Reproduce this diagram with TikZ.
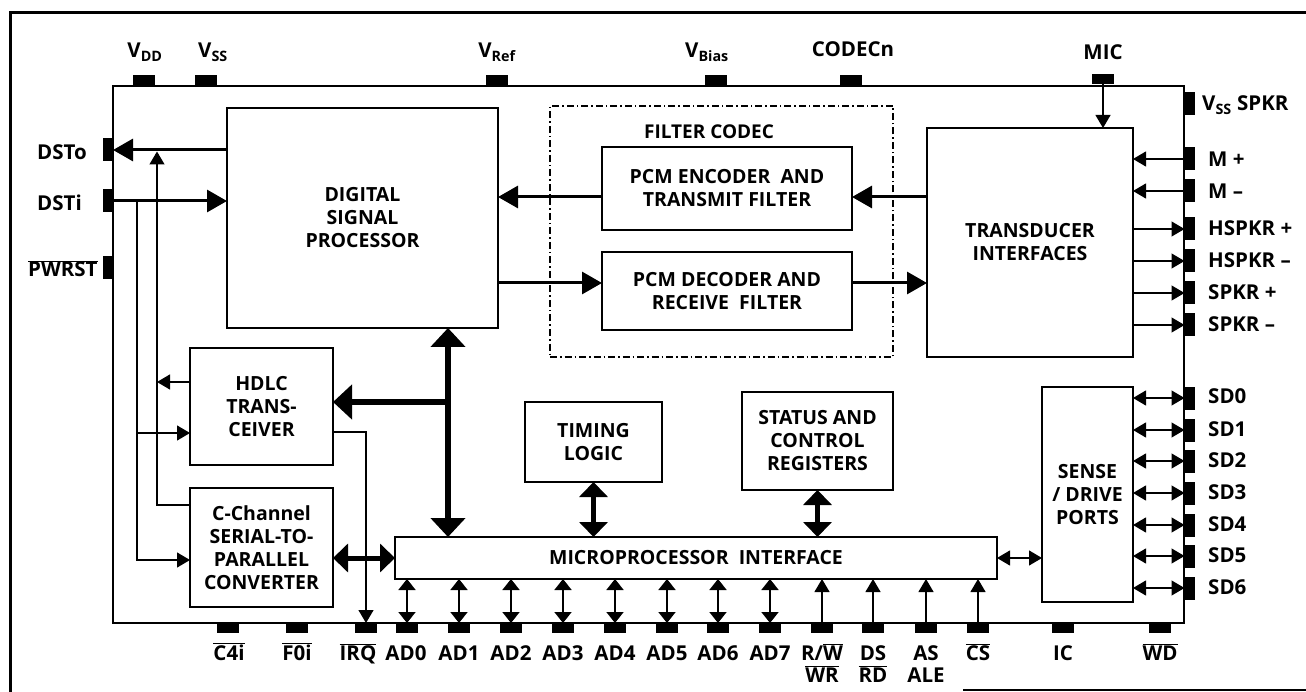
\documentclass[tikz,border=0pt]{standalone}
\usepackage{fontspec}
\setmainfont{Open Sans}
\usetikzlibrary{arrows.meta}
\newcommand{\ovl}[1]{$\overline{\hbox{#1}}$}
\tikzset{
 tT/.tip={Triangle[length=20pt,width=22pt]},
 tS/.tip={Triangle[length=13pt,width=15pt]},
 tB/.tip={Triangle[length=19pt,width=34pt]},
 tM/.tip={Triangle[length=15pt,width=28pt]},
 tA/.tip={Triangle[length=11pt,width=17pt]},
}
\begin{document}
\begin{tikzpicture}[x=1pt,y=-1pt,
  blk/.style={draw, line width=2.6pt, align=center, inner sep=0pt, outer sep=0pt, font=\bfseries\fontsize{19.5}{23}\selectfont},
  pinb/.style={fill=black, inner sep=0pt, outer sep=0pt},
  pinh/.style={pinb, minimum width=22pt, minimum height=10pt},
  pinv/.style={pinb, minimum width=10pt, minimum height=23pt},
  lbl/.style={inner sep=0pt, font=\bfseries\fontsize{20.5}{22}\selectfont},
  thin/.style={line width=1.2pt},
  thk/.style={line width=3pt},
  bus/.style={line width=6pt},
  med/.style={line width=5pt},
  adl/.style={line width=1.8pt},
]
\useasboundingbox (0,0) rectangle (1306,692);
% outer frame
\draw[line width=3pt] (1312,13) -- (10,13) -- (10,695);
\draw[line width=2pt] (963,690) -- (1312,690);
% chip outline
\node[draw, line width=1.5pt, minimum width=1071pt, minimum height=537pt, inner sep=0pt, outer sep=0pt] (chip) at (648.5,354.5) {};
% filter codec region
\node[draw, line width=1.2pt, dash pattern=on 7pt off 3pt on 1.5pt off 3pt, minimum width=343pt, minimum height=251pt, inner sep=0pt, outer sep=0pt] (codec) at (721.5,231.5) {};
\node[lbl, font=\bfseries\fontsize{19}{22}\selectfont] (codeclbl) at (709,132) {FILTER CODEC};
% blocks
\node[blk, minimum width=271pt, minimum height=220pt] (dsp) at (362.5,218) {DIGITAL\\SIGNAL\\PROCESSOR};
\node[blk, minimum width=250pt, minimum height=83pt] (enc) at (727,188.5) {PCM ENCODER~ AND\\TRANSMIT FILTER};
\node[blk, minimum width=250pt, minimum height=78pt] (dec) at (727,291) {PCM DECODER AND\\RECEIVE~ FILTER};
\node[blk, minimum width=206pt, minimum height=229pt] (trans) at (1030,242.5) {TRANSDUCER\\INTERFACES};
\node[blk, minimum width=143pt, minimum height=117pt] (hdlc) at (261.5,406.5) {HDLC\\TRANS-\\CEIVER};
\node[blk, minimum width=143pt, minimum height=119pt] (cch) at (261.5,547.5) {C-Channel\\SERIAL-TO-\\PARALLEL\\CONVERTER};
\node[blk, minimum width=137pt, minimum height=80pt] (tim) at (593.5,442) {TIMING\\LOGIC};
\node[blk, minimum width=151pt, minimum height=98pt] (stat) at (817.5,441) {STATUS AND\\CONTROL\\REGISTERS};
\node[blk, minimum width=602pt, minimum height=42pt] (micro) at (696,558) {MICROPROCESSOR~ INTERFACE};
\node[blk, minimum width=91pt, minimum height=215pt] (sense) at (1087.5,494.5) {SENSE\\/ DRIVE\\PORTS};
% top pins
\node[pinh] (vdd) at (144,80) {};
\node[pinh] (vss) at (206,80) {};
\node[pinh] (vref) at (497,80) {};
\node[pinh] (vbias) at (716,80) {};
\node[pinh] (codecn) at (851,80) {};
\node[pinh] (mic) at (1103,79) {};
\node[lbl, anchor=base] (vddl) at (145,58) {V\textsubscript{DD}};
\node[lbl, anchor=base] (vssl) at (213,58) {V\textsubscript{SS}};
\node[lbl, anchor=base] (vrefl) at (497,58) {V\textsubscript{Ref}};
\node[lbl, anchor=base] (vbiasl) at (707,58) {V\textsubscript{Bias}};
\node[lbl, anchor=base] (codecnl) at (853,57) {CODECn};
\node[lbl, anchor=base] (micl) at (1103,60) {MIC};
% left pins
\node[pinv] (dsto) at (108,150) {};
\node[pinv] (dsti) at (108,201) {};
\node[pinv] (pwrst) at (108,268) {};
\node[lbl, anchor=base west] (dstol) at (37,160) {DSTo};
\node[lbl, anchor=base west] (dstil) at (37,211) {DSTi};
\node[lbl, anchor=base west] (pwrstl) at (28,277) {\ovl{PWRST}};
% right pins
\foreach \n/\y in {vsssp/104, mp/159, mm/191, hsp/229, hsm/261, spp/293, spm/325, sd0/398, sd1/430, sd2/461, sd3/493, sd4/525, sd5/556, sd6/588}
  \node[pinv] (\n) at (1189.5,\y) {};
\node[lbl, anchor=base west] (vssspl) at (1202,111) {V\textsubscript{SS} SPKR};
\node[lbl, anchor=base west] (mpl) at (1208,167) {M +};
\node[lbl, anchor=base west] (mml) at (1208,199) {M --};
\node[lbl, anchor=base west] (hspl) at (1208,236) {HSPKR +};
\node[lbl, anchor=base west] (hsml) at (1208,268) {HSPKR --};
\node[lbl, anchor=base west] (sppl) at (1208,300) {SPKR +};
\node[lbl, anchor=base west] (spml) at (1208,332) {SPKR --};
\foreach \k/\y in {0/403, 1/436, 2/467, 3/499, 4/531, 5/562, 6/594}
  \node[lbl, anchor=base west] (sdl\k) at (1208,\y) {SD\k};
% bottom pins
\foreach \n/\x in {c4i/228, f0i/297, irq/366, ad0/407, ad1/459, ad2/511, ad3/563, ad4/615, ad5/667, ad6/718, ad7/770, rw/822, ds/873, as/926, cs/978, ic/1063, wd/1160}
  \node[pinh] (\n) at (\x,628) {};
\node[lbl, anchor=base] (c4il) at (229,660) {\ovl{C4i}};
\node[lbl, anchor=base] (f0il) at (297,660) {\ovl{F0i}};
\node[lbl, anchor=base] (irql) at (358,660) {\ovl{IRQ}};
\node[lbl, anchor=base] (adl0) at (406,660) {AD0};
\foreach \k/\x in {1/459, 2/511, 3/563, 4/615, 5/667, 6/718, 7/770}
  \node[lbl, anchor=base] (adl\k) at (\x,660) {AD\k};
\node[lbl, anchor=base] (rwl) at (822,660) {R/\ovl{W}};
\node[lbl, anchor=base] (rwl2) at (822,682) {\ovl{WR}};
\node[lbl, anchor=base] (dsl) at (873,660) {DS};
\node[lbl, anchor=base] (dsl2) at (873,682) {\ovl{RD}};
\node[lbl, anchor=base] (asl) at (926,660) {AS};
\node[lbl, anchor=base] (asl2) at (926,682) {ALE};
\node[lbl, anchor=base] (csl) at (978,660) {\ovl{CS}};
\node[lbl, anchor=base] (icl) at (1063,660) {IC};
\node[lbl, anchor=base] (wdl) at (1160,660) {\ovl{WD}};
% helper coordinates
\coordinate (yenc) at (0,197);
\coordinate (ydec) at (0,283);
\coordinate (j1) at (137,201);
\coordinate (j1h) at (137,433);
\coordinate (j1c) at (137,560);
\coordinate (j2) at (157,150);
\coordinate (j3) at (157,505);
\coordinate (j4) at (157,382);
\coordinate (j5) at (365,432);
\coordinate (b1) at (448,402);
% DSP serial ports
\draw[thk, -tT] (dsp.west |- dsto) -- (dsto.east);
\draw[thk, -tT] (dsti.east) -- (dsp.west |- dsti);
\draw[thin, -tS] (j1) |- (cch.west |- j1c);
\draw[thin, -tS] (j1h) -- (hdlc.west |- j1h);
\draw[thin, -tS, shorten >=1.5pt] (cch.west |- j3) -| (j2);
\draw[thin, -tS] (hdlc.west |- j4) -- (j4);
\draw[thin, -tS] (hdlc.east |- j5) -| (irq.north);
% bus
\draw[bus, tB-tB] (dsp.south -| b1) -- (micro.north -| b1);
\draw[bus, -tB] (b1) -- (hdlc.east |- b1);
\draw[med, tM-tM] (micro.west -| cch.east) -- (micro.west);
\draw[med, tM-tM] (tim.south) -- (micro.north -| tim.south);
\draw[med, tM-tM] (stat.south) -- (micro.north -| stat.south);
% codec paths
\draw[thk, -tT] (enc.west |- yenc) -- (dsp.east |- yenc);
\draw[thk, -tT] (trans.west |- yenc) -- (enc.east |- yenc);
\draw[thk, -tT] (dsp.east |- ydec) -- (dec.west |- ydec);
\draw[thk, -tT] (dec.east |- ydec) -- (trans.west |- ydec);
% transducer pins
\draw[thin, -tS] (mic.south) -- (trans.north -| mic.south);
\foreach \n in {mp, mm}
  \draw[thin, -tS] (\n.west) -- (trans.east |- \n);
\foreach \n in {hsp, hsm, spp, spm}
  \draw[thin, -tS] (trans.east |- \n) -- (\n.west);
% sense ports
\foreach \n in {sd0, sd1, sd2, sd3, sd4, sd5, sd6}
  \draw[thin, tS-tS] (sense.east |- \n) -- (\n.west);
\draw[thin, tS-tS] (micro.east) -- (sense.west |- micro.east);
% microprocessor bus pins
\foreach \n in {ad0, ad1, ad2, ad3, ad4, ad5, ad6, ad7}
  \draw[adl, tA-tA] (\n.north) -- (micro.south -| \n.north);
\foreach \n in {rw, ds, as, cs}
  \draw[thin, -tS] (\n.north) -- (micro.south -| \n.north);
\end{tikzpicture}
\end{document}
